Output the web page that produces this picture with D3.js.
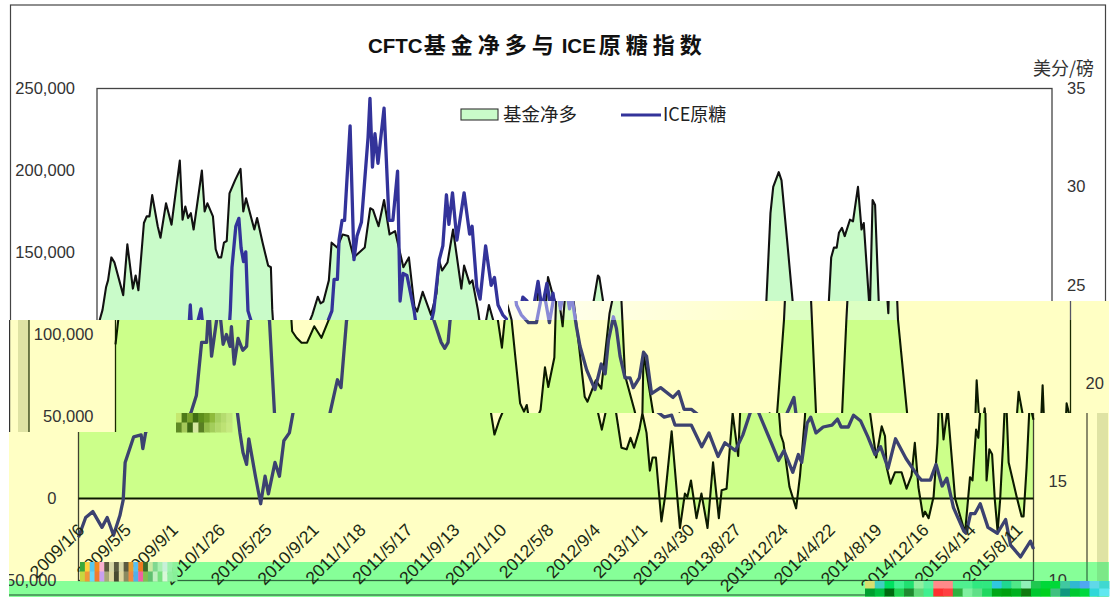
<!DOCTYPE html>
<html><head><meta charset="utf-8">
<style>html,body{margin:0;padding:0;background:#fff;overflow:hidden}svg{display:block}</style>
<script src="https://cdnjs.cloudflare.com/ajax/libs/d3/7.8.5/d3.min.js"></script>
</head><body>
<svg id="c" width="1111" height="601"></svg>
<script>
// ---- data ----
const titleLatinA = "CFTC", titleCjkA = "基金净多与", titleLatinB = "ICE", titleCjkB = "原糖指数";
const seriesNames = ["基金净多", "ICE原糖"];
const rightUnit = "美分/磅";
const dateLabels = ["2009/1/6","2009/5/5","2009/9/1","2010/1/26","2010/5/25","2010/9/21","2011/1/18","2011/5/17","2011/9/13","2012/1/10","2012/5/8","2012/9/4","2013/1/1","2013/4/30","2013/8/27","2013/12/24","2014/4/22","2014/8/19","2014/12/16","2015/4/14","2015/8/11"];
const labelStepWeeks = 17;
const leftTicks = [-50,0,50,100,150,200,250];   // thousands of contracts
const rightTicks = [10,15,20,25,30,35];         // US cents per pound
const fundWeeks = [0,1,2,3.3,4,5.2,6.3,9.5,11,13,14,15,17,18,19,20,22,23,25,27,30,31,32,33,34,35,38,39,40,42,43,44,45,46,47,48,50,52,53,54,57,58,60,62,63,63.5,64,65.6,67.4,69.4,72,74.6,78,80,81,82,84,85,87,89,91,93,95,97,99,100,102,104,106,108,111,113,115,116,118,121,123,124,125,127,129,132,133,135,136,138,140,141,142,143.5,145,146.6,148,149,150.7,152.5,154,155.6,156.8,159,159.8,162,163.4,165,166,168,170,171,174,176,179,180,181.5,182,183.3,184.6,188,189.6,190.9,191.3,194.8,196.7,198.6,200,201.3,203.2,204.3,205.8,207,208,209.2,211.2,212.5,214.9,217.9,219.7,220.6,221.9,223.9,225.7,227.9,229.9,232,233,234.8,237,239,239.7,242.2,244,245,247,248,250,252,253.8,254.4,255.4,257.6,260,261.4,263.2,264.8,266,267,268,268.8,269.9,270.9,272.8,273.9,275.7,277,277.8,280,281,281.9,283.2,283.5,286.8,289,291,292.2,292.8,294.2,295.8,298.2,300,301.8,303,304.3,306,306.7,308,309.8,311.2,312,313.4,314.9,317.6,321.2,323,323.9,325.2,326,327.2,328.6,329,330,331,332,333,333.9,335,335.9,337,339.9,341.7,342.4,343.5,344.6,346];
const fundNet = [94,109,115,129,133,147,144,124,155,128,136,127,168,172,172,185,166,159,180,167,206,170,178,171,174,164,200,175,180,172,152,147,147,156,157,186,194,201,175,183,164,171,156,142,141,115,102,98,95,95,105,98,112,123,119,120,133,156,153,161,160,147,150,153,177,176,166,182,161,163,141,147,117,114,126,112,125,145,139,144,164,128,142,131,133,115,92,109,118,109,84,58,53,57,39,48,54,80,68,86,132,105,135,125,120,92,62,59,72,67,113,121,136,135,121,75,54,42,52,89,52,31,30,37,31,42,52,40,17,25,25,-14,1,41,-18,3,1,11,-12,3,-18,22,-12,5,6,52,26,52,109,174,190,199,194,158,121,52,39,34,7,-6,14,50,109,147,153,153,162,165,160,170,169,190,164,168,113,182,179,121,109,52,25,44,38,19,9,16,16,6,14,34,7,-11,-8,-12,1,34,72,36,55,0,-21,13,11,42,37,65,52,11,30,27,-1,-20,-1,34,69,22,1,-11,-11,19,58,48];
const iceWeeks = [0,2.6,5.2,8.5,10.4,12.7,15,16.2,16.9,20,22.7,23.3,24.3,27.5,29.3,31.2,33,33.8,34.8,36.6,37.7,39,40.2,41.5,42,43,44.4,46.1,47.5,48.3,48.9,50.3,51.4,52.2,53.1,53.9,54.7,55.8,57.6,58.5,59.6,60.9,61.7,64.1,66,67.6,68.8,71.2,72.8,74.4,76.4,77.7,80.4,81.7,83.7,85.1,85.9,87.1,87.7,88.8,89.7,91.7,93.1,94.2,95.8,98.2,98.9,99.8,100.7,101.8,104,105.8,107.2,108.9,109.8,110.9,112.3,114.9,115.4,118,119.3,120.5,121.2,122,124,125.3,126.6,127.5,128.8,130.4,133,135,135.9,137.6,138.8,140.8,142.8,144,145.3,147,149.6,152.5,154.3,155.8,157.2,159.8,161.2,163,164.5,165.2,165.9,167,168.3,170.7,173.7,176,177.4,178.6,180.4,181.5,182.8,184.6,186.4,187.6,189.8,191.3,192.4,194.2,197.5,202,204,206,208.6,212.2,214.9,216.1,222,225.8,228.4,231.7,234.2,238,240.7,243.3,245.8,246.5,251,253.6,255.6,258.8,260.8,262,264,265.3,267.2,269.8,273,275,276.3,278.9,280.8,283.4,286,288.6,290.6,293.3,296,299.8,304.1,305.4,308.6,310.7,312.9,314.6,317,320.8,321.6,323.2,324.8,326.7,329.5,332.9,335.9,337.7,341.3,344.9,346];
const icePrice = [12.2,13.2,13.5,12.7,13.2,12.3,13.3,14.1,16,17.3,17.4,16.7,17.5,18.6,19.4,22.1,22.1,24,21.4,23.2,23.8,22,22.5,21.9,22.9,21,22.3,21.7,21.9,23.7,25.9,28,28.4,26.9,26.2,26.7,23.7,23.2,18.5,17.5,16.5,15.9,17.2,15.3,13.9,15.3,14.4,16,15.3,17.1,17.5,18.5,20.2,19.8,23.2,23.7,25.3,25.3,27.3,28.3,28.3,33.1,26.3,27.5,28.2,32.5,34.5,31,32.7,31.2,34,28.3,28.3,30.8,24.2,25.6,25.5,23.7,23.2,22.1,21.8,22.1,23.2,23.7,26.3,27,29.6,28.1,29.7,27.3,29.7,27.6,28,24.9,24.3,27,25,25.4,24,23.5,23.1,23.1,24.4,24.2,23.1,25.2,23.8,25.1,23.8,24.6,23.9,22.9,21.9,20.7,19.7,21,20.5,22.2,23.4,22.8,21.4,20.3,20.3,19.8,20.3,21.6,21.4,19.5,19.8,19.3,19.6,18.7,18.7,18.3,18.4,17.9,17.9,16.8,17.5,16.3,17,16.6,17.4,18.5,19.3,18.5,17,16.1,16.6,15.5,16.4,16,18,18.3,17.5,17.8,17.9,18.2,17.8,17.8,18.4,18.1,17.3,16.4,16.8,15.7,17.2,16.2,15.3,15.1,15.1,15.9,14.8,15.2,13.7,12.5,12.4,13.4,13.4,13.9,12.7,12.4,13.1,11.8,11.2,12,11.6];

// ---- scales ----
const x = d3.scaleLinear().domain([0, 346]).range([97, 1052]);
const yL = d3.scaleLinear().domain([-50, 250]).range([580.5, 88.5]);
const yR = d3.scaleLinear().domain([10, 35]).range([580.5, 88.5]);
const fundRows = fundWeeks.map((w, i) => ({w, v: fundNet[i]}));
const iceRows = iceWeeks.map((w, i) => ({w, v: icePrice[i]}));
const areaGen = d3.area().x(d => x(d.w)).y0(yL(0)).y1(d => yL(d.v));
const fundLine = d3.line().x(d => x(d.w)).y(d => yL(d.v));
const iceLine = d3.line().x(d => x(d.w)).y(d => yR(d.v));

const svg = d3.select("#c");
const defs = svg.append("defs");
const SHIFT = 18.5;
const shiftFor = py => py < 301 ? 0 : py < 432 ? SHIFT : -SHIFT;

const grad = defs.append("linearGradient").attr("id", "fade").attr("gradientUnits", "userSpaceOnUse")
  .attr("x1", 490).attr("x2", 790).attr("y1", 0).attr("y2", 0);
grad.append("stop").attr("offset", 0).attr("stop-color", "#fffff2");
grad.append("stop").attr("offset", 1).attr("stop-color", "#ffffc4");

// the picture is cut in bands that are offset and tinted
const layers = [
  {id:"b0", dx:0, clips:[[0,0,1111,301],[0,301,508,19]], bg:"#ffffff", fill:"#c9fbc9", ink:"#111", navy:"#33339a", frame:"#444", zero:false},
  {id:"b1", dx:SHIFT, clips:[[508,301,601,19]], bg:"url(#fade)", fill:"#dcffc2", ink:"#111", navy:"#8a8ad6", frame:"#556", zero:false},
  {id:"b2", dx:SHIFT, clips:[[9,320,1100,93],[9,413,167,19]], bg:"#ffffc4", fill:"#ccff8a", ink:"#0c1a00", navy:"#3c4270", frame:"#1a2a00", zero:false, strip:[18,11]},
  {id:"b3", dx:-SHIFT, clips:[[9,432,1100,130],[232,413,877,19],[9,562,71,19]], bg:"#ffffc4", fill:"#ccff8a", ink:"#0c1a00", navy:"#3c4270", frame:"#404030", zero:true, strip:[1097,11]},
  {id:"b4", dx:-SHIFT, clips:[[177,562,932,19],[9,581,1100,16]], bg:"#86ff98", fill:"#86ff98", ink:"#0c1a00", navy:"#3c4270", frame:"#2f6a3f", zero:false, strip:[1097,11], stripColor:"#7ce888"}
];

layers.forEach(L => {
  const cp = defs.append("clipPath").attr("id", "clip-" + L.id);
  cp.selectAll("rect").data(L.clips).join("rect")
    .attr("x", d => d[0]).attr("y", d => d[1]).attr("width", d => d[2]).attr("height", d => d[3]);
  const outer = svg.append("g").attr("clip-path", `url(#clip-${L.id})`);
  outer.append("rect").attr("x", 0).attr("y", 0).attr("width", 1111).attr("height", 601).attr("fill", L.bg === "url(#fade)" ? "#ffffc4" : L.bg);
  if (L.strip) outer.append("rect").attr("x", L.strip[0]).attr("y", 300).attr("width", L.strip[1]).attr("height", 300).attr("fill", L.stripColor || "#dfe3a4");
  const g = outer.append("g").attr("transform", `translate(${L.dx},0)`);
  if (L.bg === "url(#fade)") g.append("rect").attr("x", 490).attr("y", 295).attr("width", 300).attr("height", 30).attr("fill", L.bg);
  // outer frame
  g.append("rect").attr("x", 10.5).attr("y", 5).attr("width", 1095).attr("height", 590)
    .attr("fill", "none").attr("stroke", L.frame).attr("stroke-width", 1.2);
  g.append("path").attr("d", areaGen(fundRows)).attr("fill", L.fill);
  g.append("rect").attr("x", x(0)).attr("y", yL(250)).attr("width", x(346) - x(0)).attr("height", yL(-50) - yL(250))
    .attr("fill", "none").attr("stroke", L.frame).attr("stroke-width", 1.3);
  if (L.zero) g.append("line").attr("x1", x(0)).attr("x2", x(346)).attr("y1", yL(0)).attr("y2", yL(0))
    .attr("stroke", L.ink).attr("stroke-width", 2);
  g.append("path").attr("d", fundLine(fundRows)).attr("fill", "none").attr("stroke", L.ink).attr("stroke-width", 2.1).attr("stroke-linejoin", "round");
  g.append("path").attr("d", iceLine(iceRows)).attr("fill", "none").attr("stroke", L.navy).attr("stroke-width", 3.3).attr("stroke-linejoin", "round");
  if (L.id === "b2") outer.append("line").attr("x1", 9.6).attr("x2", 9.6).attr("y1", 320).attr("y2", 432).attr("stroke", "#333").attr("stroke-width", 1.2);
});

// ---- axes ----
const textClip = defs.append("clipPath").attr("id", "clip-text");
textClip.append("rect").attr("x", 9).attr("y", 0).attr("width", 1100).attr("height", 601);
const axes = svg.append("g").attr("clip-path", "url(#clip-text)");
const LATIN = "'Liberation Sans', Arial, sans-serif";

const leftAxis = axes.append("g").attr("transform", "translate(97,0)")
  .call(d3.axisLeft(yL).tickValues(leftTicks).tickSize(0).tickPadding(22).tickFormat(d => d3.format(",")(d * 1000)));
leftAxis.select(".domain").remove();
leftAxis.selectAll(".tick").attr("transform", d => `translate(${shiftFor(yL(d))},${yL(d)})`);
const rightAxis = axes.append("g").attr("transform", "translate(1052,0)")
  .call(d3.axisRight(yR).tickValues(rightTicks).tickSize(0).tickPadding(15));
rightAxis.select(".domain").remove();
rightAxis.selectAll(".tick").attr("transform", d => `translate(${shiftFor(yR(d))},${yR(d)})`);
[leftAxis, rightAxis].forEach(a => a.selectAll("text").attr("font-family", LATIN).attr("font-size", 16.5).attr("fill", "#333"));

const dateWeeks = dateLabels.map((_, i) => i * labelStepWeeks);
const bottomAxis = axes.append("g").attr("transform", "translate(0,520)")
  .call(d3.axisBottom(x).tickValues(dateWeeks).tickSize(0).tickFormat(w => dateLabels[w / labelStepWeeks]));
bottomAxis.select(".domain").remove();
bottomAxis.selectAll(".tick").attr("transform", d => `translate(${x(d) - SHIFT},0)`);
bottomAxis.selectAll("text").attr("font-family", LATIN).attr("font-size", 17.5).attr("fill", "#1c2a14")
  .attr("text-anchor", "end").attr("y", 0).attr("x", -3).attr("dy", "0.72em").attr("transform", "rotate(-45)");

// ---- title, unit, legend ----
const CJK = "'Noto Sans CJK SC', sans-serif";
const title = svg.append("text").attr("x", 368).attr("y", 53).attr("fill", "#111").attr("font-weight", 700);
title.append("tspan").text(titleLatinA).attr("font-family", LATIN).attr("font-size", 20.5);
title.append("tspan").text(titleCjkA).attr("font-family", CJK).attr("font-size", 22).attr("letter-spacing", 5).attr("dx", 1);
title.append("tspan").text(titleLatinB).attr("font-family", LATIN).attr("font-size", 20.5).attr("dx", 3);
title.append("tspan").text(titleCjkB).attr("font-family", CJK).attr("font-size", 22).attr("letter-spacing", 5).attr("dx", 3);

svg.append("text").attr("x", 1033).attr("y", 75).text(rightUnit)
  .attr("font-family", CJK).attr("font-size", 18).attr("fill", "#333");

svg.append("rect").attr("x", 461).attr("y", 109).attr("width", 37).attr("height", 11)
  .attr("fill", "#c9fbc9").attr("stroke", "#333").attr("stroke-width", 1.1);
svg.append("text").attr("x", 503).attr("y", 121).text(seriesNames[0])
  .attr("font-family", CJK).attr("font-size", 18.5).attr("fill", "#222");
svg.append("line").attr("x1", 621).attr("x2", 661).attr("y1", 115).attr("y2", 115)
  .attr("stroke", "#33339a").attr("stroke-width", 3);
svg.append("text").attr("x", 663).attr("y", 121).text(seriesNames[1])
  .attr("font-family", CJK).attr("font-size", 18).attr("fill", "#222");

// ---- damaged blocks of the source picture ----
function mosaic(x0, y0, w, h, rows) {
  const band = d3.scaleBand().domain(d3.range(rows.length)).range([y0, y0 + h]);
  rows.forEach((colors, r) => {
    const col = d3.scaleBand().domain(d3.range(colors.length)).range([x0, x0 + w]);
    svg.append("g").selectAll("rect").data(colors).join("rect")
      .attr("x", (d, i) => col(i)).attr("y", band(r)).attr("width", col.bandwidth() + 0.5).attr("height", band.bandwidth() + 0.5).attr("fill", d => d);
  });
}
mosaic(176, 413, 56, 19, [
  ["#c5e86f","#4d7a18","#7aa52a","#3f6d12","#5c8f1a","#6f9f25","#8fbb3c","#a6d160","#b5dc6f","#c2e77e"],
  ["#5f8a24","#a5c95a","#3e6a14","#d5e8a0","#587f22","#93bd4a","#a3cd5b","#b2d96b","#bde274","#c6ea80"]
]);
mosaic(80, 562, 97, 19, [
  ["#3aa83a","#ffd23a","#55c8f0","#f58a1e","#f8b0d0","#5a5a40","#d8d8a8","#5a5a40","#d8d8a8","#5a5a40","#e8a030","#58c0f0","#f07a20","#3a6a2a","#c8e8a0","#80d890","#a8f0b0","#c8f0d8","#9cf2ac","#8cf29c"],
  ["#c8d840","#f09838","#68d8f8","#f07a30","#c8a0f0","#a8a878","#e0d8a0","#484830","#e0d8a0","#8a8a60","#f08a40","#50b0e8","#f060a0","#80c050","#60c070","#c0f0c0","#78e080","#d8f8d8","#90f0a0","#88f098"]
]);
mosaic(865, 581, 244, 15, [
  ["#d8e070","#40d0c0","#00e060","#40f090","#20e070","#90f0a0","#60f0a0","#ff8a8a","#ff8a8a","#50f090","#50f090","#30e880","#30e880","#30c8e0","#20d890","#50e888","#90f0b8","#20c850","#00d838","#00d838","#40c8a0","#30b8d0","#50a8f0","#60d8e8","#40d8d0"],
  ["#00a030","#00c040","#006a10","#20d050","#208a30","#60d878","#40f090","#ff3030","#ff4040","#30b040","#80f0a0","#60e088","#20d860","#00a818","#00a010","#00b020","#107a10","#00c830","#00d020","#40c080","#109880","#00c830","#00d840","#30d8d8","#60e8f0"]
]);
</script>
</body></html>
